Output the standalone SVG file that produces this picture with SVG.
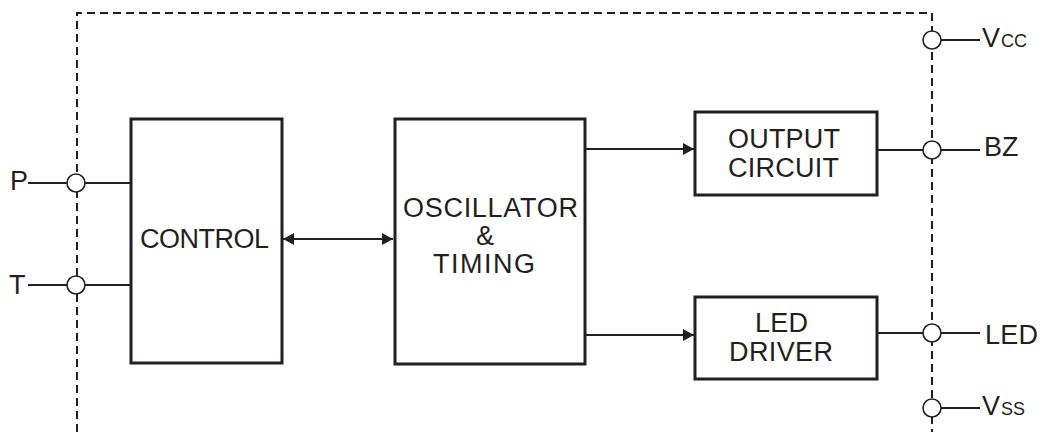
<svg xmlns="http://www.w3.org/2000/svg" width="1044" height="432" viewBox="0 0 1044 432">
<style>
.box{fill:#fff;stroke:#231f20;stroke-width:3}
.ln{fill:none;stroke:#231f20;stroke-width:1.8}
.pin{fill:#fff;stroke:#231f20;stroke-width:1.6}
.dash{fill:none;stroke:#231f20;stroke-width:2;stroke-dasharray:8 5}
text{font-family:"Liberation Sans",Arial,sans-serif;fill:#231f20;font-size:27px}
.c{text-anchor:middle}
</style>
<defs>
<marker id="ah" viewBox="0 0 11 12" refX="11" refY="6" markerWidth="11" markerHeight="12" markerUnits="userSpaceOnUse" orient="auto-start-reverse">
<path d="M0,0 L11,6 L0,12 Z" fill="#231f20"/>
</marker>
</defs>
<g id="boundary">
<path class="dash" d="M77,432 V13 H932 V432"/>
</g>
<g id="connectors">
<line class="ln" x1="28" y1="183" x2="130" y2="183"/>
<line class="ln" x1="28" y1="285" x2="130" y2="285"/>
<line class="ln" x1="283" y1="239" x2="393" y2="239" marker-start="url(#ah)" marker-end="url(#ah)"/>
<line class="ln" x1="586" y1="149" x2="694" y2="149" marker-end="url(#ah)"/>
<line class="ln" x1="586" y1="335" x2="694" y2="335" marker-end="url(#ah)"/>
<line class="ln" x1="877" y1="150" x2="980" y2="150"/>
<line class="ln" x1="877" y1="333" x2="980" y2="333"/>
<line class="ln" x1="932" y1="40" x2="980" y2="40"/>
<line class="ln" x1="932" y1="408" x2="980" y2="408"/>
</g>
<g id="pin-P"><circle class="pin" cx="76" cy="183" r="9"/><text x="10" y="190">P</text></g>
<g id="pin-T"><circle class="pin" cx="76" cy="285" r="9"/><text x="9" y="294">T</text></g>
<g id="pin-VCC"><circle class="pin" cx="932" cy="40" r="9"/><text x="982" y="47">V<tspan font-size="18" dx="1">CC</tspan></text></g>
<g id="pin-BZ"><circle class="pin" cx="932" cy="150" r="9"/><text x="984" y="156">BZ</text></g>
<g id="pin-LED"><circle class="pin" cx="932" cy="333" r="9"/><text x="985" y="344" textLength="53">LED</text></g>
<g id="pin-VSS"><circle class="pin" cx="932" cy="408" r="9"/><text x="982" y="415">V<tspan font-size="18" dx="1">SS</tspan></text></g>
<g id="control"><rect class="box" x="131" y="119" width="151" height="244"/><text x="140" y="248" textLength="129">CONTROL</text></g>
<g id="oscillator"><rect class="box" x="395" y="119" width="190" height="245"/>
<text x="403" y="217" textLength="175">OSCILLATOR</text><text class="c" x="485" y="245">&amp;</text><text x="433" y="273" textLength="102">TIMING</text></g>
<g id="output"><rect class="box" x="695" y="112" width="182" height="83"/><text x="728" y="148" textLength="112">OUTPUT</text><text x="728" y="177" textLength="111">CIRCUIT</text></g>
<g id="led-driver"><rect class="box" x="695" y="297" width="182" height="82"/><text x="755" y="332" textLength="53">LED</text><text x="729" y="361" textLength="104">DRIVER</text></g>
</svg>
